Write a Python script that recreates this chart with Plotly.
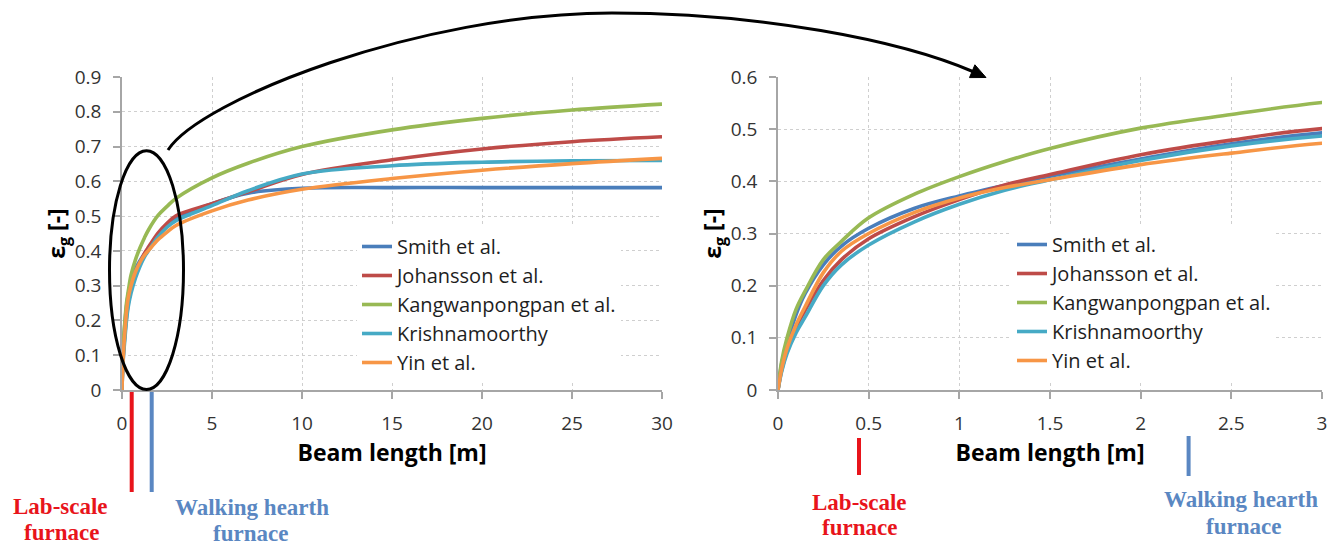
import plotly.graph_objects as go

# ---------------- data ----------------
beam_length = [0, 0.02, 0.05, 0.1, 0.15, 0.25, 0.35, 0.5, 0.75, 1, 1.25, 1.5, 2, 2.5, 3,
               5, 7, 10, 15, 20, 25, 30]
smith = [0, 0.05, 0.09, 0.145, 0.185, 0.24, 0.276, 0.31, 0.348, 0.372, 0.392, 0.410, 0.443, 0.472, 0.493,
         0.536, 0.566, 0.580, 0.582, 0.582, 0.582, 0.582]
johansson = [0, 0.038, 0.075, 0.12, 0.153, 0.21, 0.25, 0.29, 0.332, 0.365, 0.393, 0.413, 0.451, 0.479, 0.501,
             0.536, 0.570, 0.620, 0.662, 0.693, 0.714, 0.728]
kangwanpongpan = [0, 0.055, 0.10, 0.155, 0.19, 0.25, 0.285, 0.33, 0.375, 0.409, 0.438, 0.463, 0.502, 0.528, 0.551,
                  0.610, 0.652, 0.700, 0.748, 0.781, 0.805, 0.822]
krishnamoorthy = [0, 0.035, 0.07, 0.11, 0.14, 0.20, 0.24, 0.278, 0.322, 0.356, 0.383, 0.403, 0.440, 0.468, 0.487,
                  0.530, 0.573, 0.621, 0.645, 0.655, 0.659, 0.660]
yin = [0, 0.04, 0.08, 0.125, 0.16, 0.225, 0.266, 0.30, 0.34, 0.368, 0.388, 0.403, 0.432, 0.454, 0.473,
       0.515, 0.546, 0.577, 0.608, 0.632, 0.651, 0.666]

series_names = ["Smith et al.", "Johansson et al.", "Kangwanpongpan et al.", "Krishnamoorthy", "Yin et al."]
series_values = [smith, johansson, kangwanpongpan, krishnamoorthy, yin]
series_colors = ["#4A7EBB", "#BE4B48", "#98B954", "#46AAC5", "#F79646"]

left_x_ticks = [0, 5, 10, 15, 20, 25, 30]
left_y_ticks = [0, 0.1, 0.2, 0.3, 0.4, 0.5, 0.6, 0.7, 0.8, 0.9]
right_x_ticks = [0, 0.5, 1, 1.5, 2, 2.5, 3]
right_y_ticks = [0, 0.1, 0.2, 0.3, 0.4, 0.5, 0.6]

# ---------------- layout geometry ----------------
W, H = 1341, 546
ML, MR, MT, MB = 122, 19, 77, 156
PW = W - ML - MR
PH = H - MT - MB


def px(xp):
    return (xp - ML) / PW


def py(yp):
    return (H - MB - yp) / PH


fig = go.Figure()
for name, vals, col in zip(series_names, series_values, series_colors):
    fig.add_trace(go.Scatter(x=beam_length, y=vals, name=name, mode="lines",
                             line=dict(color=col, width=3.6, shape="spline", smoothing=1.0),
                             xaxis="x", yaxis="y", legend="legend"))
for name, vals, col in zip(series_names, series_values, series_colors):
    fig.add_trace(go.Scatter(x=beam_length, y=vals, name=name, mode="lines",
                             line=dict(color=col, width=3.6, shape="spline", smoothing=1.0),
                             xaxis="x2", yaxis="y2", legend="legend2"))

tick_font = dict(family="Open Sans", size=19, color="#333333")
title_font = dict(family="Open Sans", size=23, color="#000000", weight="bold")
grid = dict(showgrid=True, gridcolor="#CFCFCF", gridwidth=1, griddash="3px,3px",
            showline=True, linecolor="#A6A6A6", linewidth=1.5, ticks="outside",
            tickcolor="#A6A6A6", ticklen=7, tickwidth=1.5, zeroline=False,
            tickfont=tick_font, automargin=False, ticklabelstandoff=8)

fig.update_layout(
    width=W, height=H, margin=dict(l=ML, r=MR, t=MT, b=MB),
    paper_bgcolor="white", plot_bgcolor="white",
    xaxis=dict(domain=[0, px(662)], range=[0, 30], tickvals=left_x_ticks, anchor="y",
               title=dict(text="Beam length [m]", font=title_font, standoff=8), **grid),
    yaxis=dict(domain=[0, 1], range=[0, 0.9], tickvals=left_y_ticks, anchor="x",
               title=dict(text="ε<sub>g</sub> [-]", font=title_font, standoff=0), **grid),
    xaxis2=dict(domain=[px(778), 1], range=[0, 3], tickvals=right_x_ticks, anchor="y2",
                title=dict(text="Beam length [m]", font=title_font, standoff=8), **grid),
    yaxis2=dict(domain=[0, 1], range=[0, 0.6], tickvals=right_y_ticks, anchor="x2",
                title=dict(text="ε<sub>g</sub> [-]", font=title_font, standoff=2), **grid),
    legend=dict(x=px(357), y=py(227), xanchor="left", yanchor="top", bgcolor="white",
                font=dict(family="Open Sans", size=20, color="#1e1e1e"), tracegroupgap=0),
    legend2=dict(x=px(1012), y=py(225), xanchor="left", yanchor="top", bgcolor="white",
                 font=dict(family="Open Sans", size=20, color="#1e1e1e"), tracegroupgap=0),
)

shapes = []
# ellipse around start region
shapes.append(dict(type="circle", xref="paper", yref="paper",
                   x0=px(109.5), x1=px(183.5), y0=py(389.5), y1=py(150.7),
                   line=dict(color="black", width=3)))


def P(x, y):
    return f"{px(x):.5f},{py(y):.5f}"


arc = (f"M {P(168, 150)} C {P(200, 100)} {P(420, 13)} {P(612, 13)} "
       f"C {P(760, 13)} {P(900, 40)} {P(974, 72)}")
shapes.append(dict(type="path", xref="paper", yref="paper", path=arc,
                   line=dict(color="black", width=3)))
head = f"M {P(986, 77.5)} L {P(969.5, 77.6)} L {P(974.9, 64.8)} Z"
shapes.append(dict(type="path", xref="paper", yref="paper", path=head,
                   fillcolor="black", line=dict(color="black", width=1)))

RED = "#E8141B"
BLUE = "#5A87C2"
for xp, y0, y1, col in [(131.7, 392, 492, RED), (151.7, 392, 492, BLUE),
                        (859, 438, 475, RED), (1188.6, 436, 476, BLUE)]:
    shapes.append(dict(type="line", xref="paper", yref="paper",
                       x0=px(xp), x1=px(xp), y0=py(y0), y1=py(y1),
                       line=dict(color=col, width=4)))
fig.update_layout(shapes=shapes)

labels = [("Lab-scale", 60, 506, RED), ("furnace", 61, 532, RED),
          ("Walking hearth", 252, 507, BLUE), ("furnace", 250, 533, BLUE),
          ("Lab-scale", 859, 502, RED), ("furnace", 859, 527, RED),
          ("Walking hearth", 1241, 500, BLUE), ("furnace", 1243, 526, BLUE)]
for txt, xp, yp, col in labels:
    fig.add_annotation(text=txt, xref="paper", yref="paper", x=px(xp), y=py(yp),
                       xanchor="center", yanchor="middle", showarrow=False,
                       font=dict(family="Liberation Serif", size=23, color=col, weight="bold"))

fig.write_html("out.html")
